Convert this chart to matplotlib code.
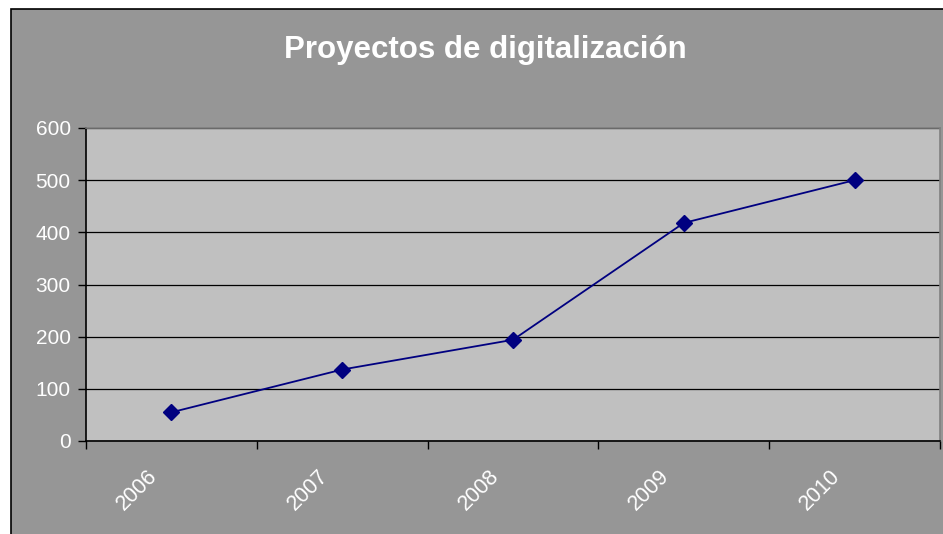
import matplotlib.pyplot as plt
import matplotlib.transforms as mtransforms
from matplotlib.patches import Rectangle

years = ["2006", "2007", "2008", "2009", "2010"]
proyectos = [55, 137, 194, 418, 500]
y_ticks = [0, 100, 200, 300, 400, 500, 600]

W, H = 943, 534
plt.rcParams['font.family'] = ['Liberation Sans', 'DejaVu Sans']

fig = plt.figure(figsize=(W / 100, H / 100), dpi=100)
fig.patch.set_facecolor("white")

# gray chart area with dark frame
fig.patches.append(Rectangle((11 / W, -0.01), 1.0, (H - 9) / H + 0.01,
                             transform=fig.transFigure, facecolor="#969696",
                             edgecolor="black", linewidth=1.2, zorder=-10))

fig.text(485 / W, 1 - 50 / H, "Proyectos de digitalización", color="white",
         fontsize=22.5, fontweight="bold", ha="center", va="center")

ax = fig.add_axes([86 / W, (H - 441) / H, 854 / W, 313 / H])
ax.set_facecolor("#C0C0C0")

x = list(range(len(years)))
ax.plot(x, proyectos, color="#000080", linewidth=1.3, marker="D",
        markersize=8, zorder=3)

ax.set_xlim(-0.5, len(years) - 0.5)
ax.set_ylim(0, 600)
ax.set_yticks(y_ticks)
ax.yaxis.grid(True, color="black", linewidth=0.9)
ax.set_axisbelow(True)

ax.set_xticks(x)
ax.set_xticklabels(years)
ax.set_xticks([i - 0.5 for i in range(len(years) + 1)], minor=True)
ax.tick_params(axis="x", which="major", length=0, pad=18, colors="white",
               labelsize=15.5)
ax.tick_params(axis="x", which="minor", length=6, width=1, color="black")
ax.tick_params(axis="y", length=6, width=1, color="black", colors="white",
               labelsize=15, pad=5)
ax.tick_params(axis="y", color="black")

offset = mtransforms.ScaledTranslation(-0.10, 0, fig.dpi_scale_trans)
for lbl in ax.get_xticklabels():
    lbl.set_rotation(45)
    lbl.set_ha("right")
    lbl.set_transform(lbl.get_transform() + offset)

ax.spines["left"].set_color("black")
ax.spines["bottom"].set_color("black")
ax.spines["top"].set_color("#808080")
ax.spines["right"].set_color("#808080")
for s in ax.spines.values():
    s.set_linewidth(1.2)

fig.savefig("out.png", dpi=100, facecolor=fig.get_facecolor())
